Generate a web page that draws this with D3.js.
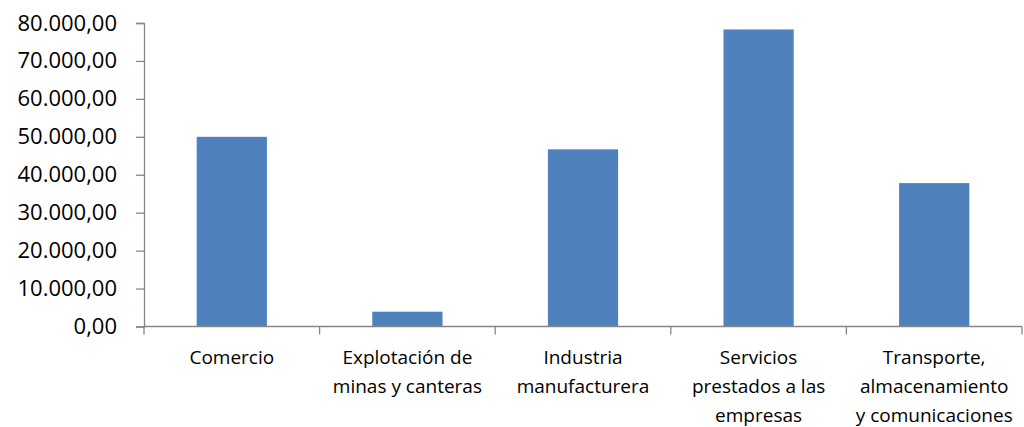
<!DOCTYPE html>
<html>
<head>
<meta charset="utf-8">
<script src="https://cdn.jsdelivr.net/npm/d3@7"></script>
<style>
  html, body { margin: 0; padding: 0; background: #fff; }
  svg { display: block; }
</style>
</head>
<body>
<svg id="chart" width="1024" height="427"></svg>
<script>
const categories = [
  ["Comercio"],
  ["Explotación de", "minas y canteras"],
  ["Industria", "manufacturera"],
  ["Servicios", "prestados a las", "empresas"],
  ["Transporte,", "almacenamiento", "y comunicaciones"]
];
const values = [50000, 3900, 46700, 78300, 37800];
const yTicks = [0, 10000, 20000, 30000, 40000, 50000, 60000, 70000, 80000];

const svg = d3.select("#chart");
const margin = { left: 144, right: 2, top: 23, bottom: 100.5 };
const W = 1024, H = 427;
const x = d3.scaleBand().domain(d3.range(categories.length))
  .range([margin.left, W - margin.right]).paddingInner(0.6).paddingOuter(0.3);
const y = d3.scaleLinear().domain([0, 80000]).range([H - margin.bottom, margin.top]);

const fmt = v => {
  const s = d3.format(",.2f")(v);
  return s.replace(/,/g, "#").replace(/\./g, ",").replace(/#/g, ".");
};

// bars
svg.append("g").selectAll("rect").data(values).join("rect")
  .attr("x", (d, i) => x(i))
  .attr("width", x.bandwidth())
  .attr("y", d => y(d))
  .attr("height", d => y(0) - y(d))
  .attr("fill", "#4F81BD");

// y axis
const yAxis = svg.append("g").attr("transform", `translate(${margin.left},0)`)
  .call(d3.axisLeft(y).tickValues(yTicks).tickFormat(fmt).tickSize(8).tickPadding(19));
yAxis.select(".domain").attr("stroke", "#868686").attr("stroke-width", 1.3);
yAxis.selectAll(".tick line").attr("stroke", "#868686").attr("stroke-width", 1.3);
yAxis.selectAll(".tick text")
  .attr("font-family", "'Open Sans', sans-serif").attr("font-size", 22).attr("fill", "#000");

// x axis
const step = (W - margin.right - margin.left) / categories.length;
const xAxis = svg.append("g").attr("transform", `translate(0,${y(0)})`);
xAxis.append("line").attr("x1", margin.left).attr("x2", W - margin.right)
  .attr("stroke", "#868686").attr("stroke-width", 1.3);
xAxis.selectAll("line.tk").data(d3.range(categories.length + 1)).join("line")
  .attr("class", "tk")
  .attr("x1", i => margin.left + i * step).attr("x2", i => margin.left + i * step)
  .attr("y1", 0).attr("y2", 8)
  .attr("stroke", "#868686").attr("stroke-width", 1.3);

const lbl = xAxis.selectAll("text").data(categories).join("text")
  .attr("font-family", "'Open Sans', sans-serif").attr("font-size", 19)
  .attr("fill", "#000").attr("text-anchor", "middle");
lbl.selectAll("tspan").data((d, i) => d.map(t => ({ t, i }))).join("tspan")
  .attr("x", d => x(d.i) + x.bandwidth() / 2)
  .attr("y", (d, j) => 37.5 + j * 28.8)
  .text(d => d.t);
</script>
</body>
</html>
